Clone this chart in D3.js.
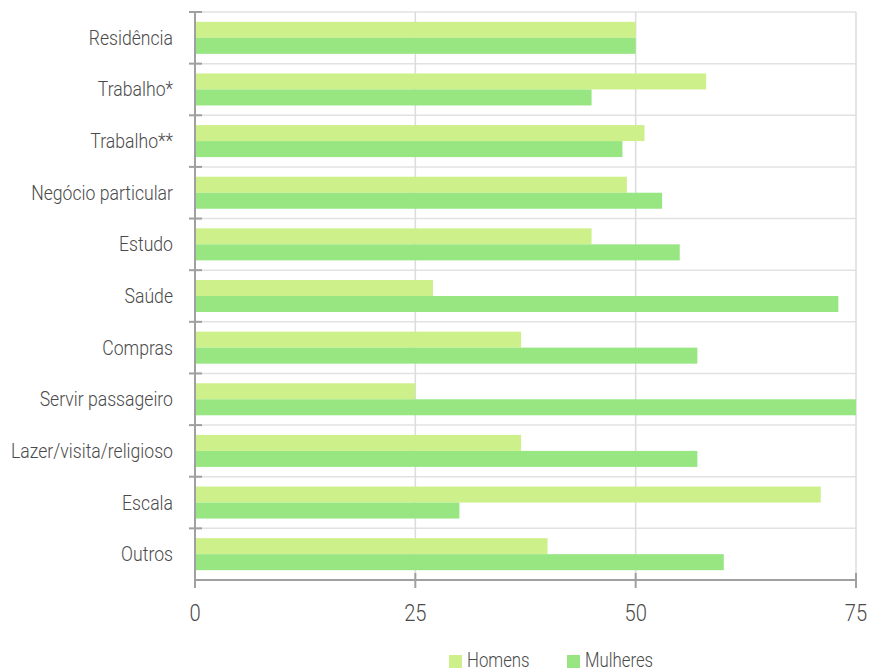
<!DOCTYPE html>
<html>
<head>
<meta charset="utf-8">
<script src="https://cdn.jsdelivr.net/npm/d3@7"></script>
<style>
  html, body { margin: 0; padding: 0; background: #fff; }
  svg text { font-family: "Roboto", "DejaVu Sans Condensed", sans-serif; font-weight: 300; fill: #4a4a4a; }
</style>
</head>
<body>
<svg id="chart" width="870" height="672"></svg>
<script>
// Motivos de viagem por sexo (%)
const categories = [
  "Residência", "Trabalho*", "Trabalho**", "Negócio particular", "Estudo",
  "Saúde", "Compras", "Servir passageiro", "Lazer/visita/religioso", "Escala", "Outros"
];
const seriesNames = ["Homens", "Mulheres"];
const homens   = [50, 58, 51, 49, 45, 27, 37, 25, 37, 71, 40];
const mulheres = [50, 45, 48.5, 53, 55, 73, 57, 75, 57, 30, 60];
const xTicks = [0, 25, 50, 75];
const colors = ["#cef08a", "#97e682"];

// narrow lettering: a light sans squeezed horizontally
const squeeze = 0.84;

const svg = d3.select("#chart");
const margin = { top: 12, right: 14, bottom: 92, left: 195 };
const width = 870 - margin.left - margin.right;
const height = 672 - margin.top - margin.bottom;

const g = svg.append("g").attr("transform", `translate(${margin.left},${margin.top})`);

const x = d3.scaleLinear().domain([0, 75]).range([0, width]);
const y = d3.scaleBand().domain(categories).range([0, height]).paddingInner(0.38).paddingOuter(0.19);
const yBand = d3.scaleBand().domain(categories).range([0, height]);
const ySub = d3.scaleBand().domain(seriesNames).range([0, y.bandwidth()]);

// grid: horizontal category boundaries
const bounds = categories.map(c => yBand(c)).concat([height]);
g.append("g").selectAll("line").data(bounds).join("line")
  .attr("x1", 0).attr("x2", width)
  .attr("y1", d => d).attr("y2", d => d)
  .attr("stroke", "#e2e2e2").attr("stroke-width", 1.5);

// grid: vertical value lines
g.append("g").selectAll("line").data(xTicks.slice(1)).join("line")
  .attr("x1", d => x(d)).attr("x2", d => x(d))
  .attr("y1", 0).attr("y2", height)
  .attr("stroke", "#dcdcdc").attr("stroke-width", 1.5);

// bars
const rows = categories.map((c, i) => ({ c, vals: [homens[i], mulheres[i]] }));
const grp = g.append("g").selectAll("g").data(rows).join("g")
  .attr("transform", d => `translate(0,${y(d.c)})`);
grp.selectAll("rect").data(d => d.vals.map((v, k) => ({ k, v }))).join("rect")
  .attr("x", 0)
  .attr("y", d => ySub(seriesNames[d.k]))
  .attr("width", d => x(d.v))
  .attr("height", ySub.bandwidth())
  .attr("fill", d => colors[d.k]);

// left axis
const axisColor = "#a0a0a0";
g.append("line").attr("x1", 0).attr("x2", 0).attr("y1", 0).attr("y2", height)
  .attr("stroke", axisColor).attr("stroke-width", 2);
g.append("g").selectAll("line").data(bounds.slice(0, -1)).join("line")
  .attr("x1", -6).attr("x2", 7).attr("y1", d => d).attr("y2", d => d)
  .attr("stroke", axisColor).attr("stroke-width", 2);
g.append("g").selectAll("text").data(categories).join("text")
  .attr("transform", d => `translate(-22,${yBand(d) + yBand.bandwidth() / 2 + 7}) scale(${squeeze},1)`)
  .attr("text-anchor", "end")
  .attr("font-size", 21)
  .text(d => d);

// bottom axis
g.append("line").attr("x1", 0).attr("x2", width).attr("y1", height).attr("y2", height)
  .attr("stroke", axisColor).attr("stroke-width", 2);
g.append("g").selectAll("line").data(xTicks).join("line")
  .attr("x1", d => x(d)).attr("x2", d => x(d))
  .attr("y1", height - 7).attr("y2", height + 8)
  .attr("stroke", axisColor).attr("stroke-width", 2);
g.append("g").selectAll("text").data(xTicks).join("text")
  .attr("transform", d => `translate(${x(d)},${height + 41}) scale(${squeeze},1)`)
  .attr("text-anchor", "middle")
  .attr("font-size", 24)
  .text(d => d);

// legend
const legend = svg.append("g");
const legendX = [449, 567];
seriesNames.forEach((name, i) => {
  legend.append("rect").attr("x", legendX[i]).attr("y", 655).attr("width", 13).attr("height", 13)
    .attr("fill", colors[i]);
  legend.append("text")
    .attr("transform", `translate(${legendX[i] + 18},667) scale(${squeeze},1)`)
    .attr("font-size", 20).text(name);
});
</script>
</body>
</html>
